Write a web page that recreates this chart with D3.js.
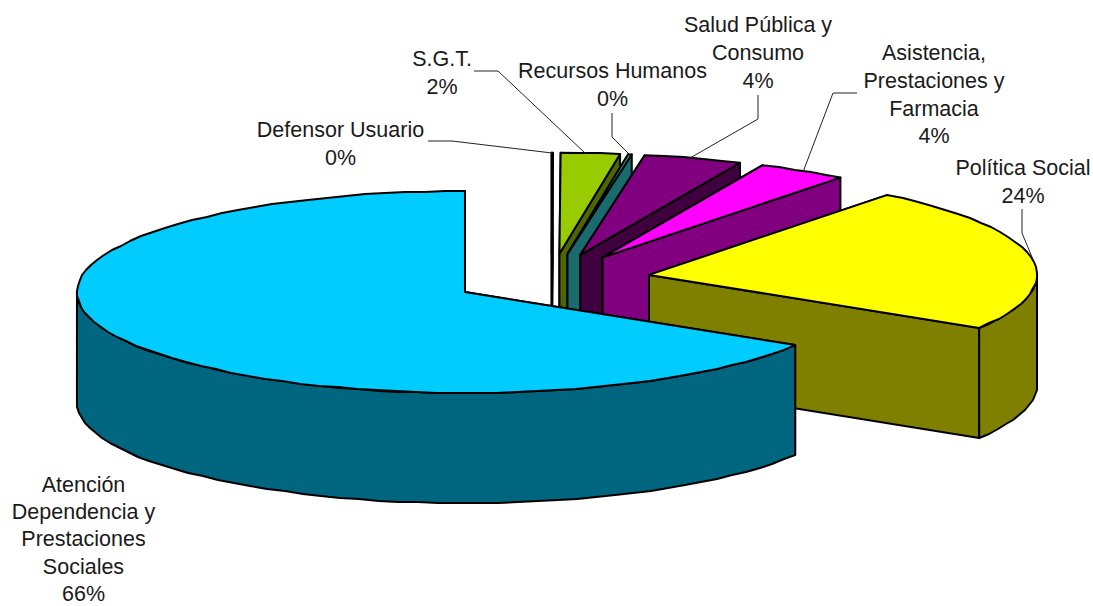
<!DOCTYPE html>
<html>
<head>
    <meta charset="utf-8">
    <title>Pie 3D</title>
    <script type="text/javascript" src="https://cdn.jsdelivr.net/npm/d3@7"></script>
    <style type="text/css">
        body { margin: 0; background: #fff; }
        svg { display: block; }
        .label { font-family: "Liberation Sans", Arial, sans-serif; font-size: 21.5px; fill: #1a1a1a; text-anchor: middle; }
        .leader { fill: none; stroke: #222; stroke-width: 1; }
        .face { stroke: #000; stroke-width: 2; stroke-linejoin: round; }
    </style>
</head>
<body>
<svg></svg>
<script type="text/javascript">
    // clockwise from 12 o'clock
    var categories = ["Defensor Usuario", "S.G.T.", "Recursos Humanos", "Salud Pública y Consumo",
        "Asistencia, Prestaciones y Farmacia", "Política Social", "Atención Dependencia y Prestaciones Sociales"];
    var values = [0.05, 2.45, 0.15, 4.1, 3.75, 23.3, 66.2];
    var percentLabels = ["0%", "2%", "0%", "4%", "4%", "24%", "66%"];
    var topColors = ["#ffffff", "#99cc00", "#339999", "#800080", "#ff00ff", "#ffff00", "#00ccff"];
    var sideColors = ["#ffffff", "#4d6600", "#1a6b6e", "#400040", "#800080", "#808000", "#006680"];

    // label text is wrapped by hand, same as the picture
    var labelLines = [["Defensor Usuario"], ["S.G.T."], ["Recursos Humanos"], ["Salud Pública y", "Consumo"],
        ["Asistencia,", "Prestaciones y", "Farmacia"], ["Política Social"],
        ["Atención", "Dependencia y", "Prestaciones", "Sociales"]];

    var w = 1093, h = 606,
        cx = 551.5, cy = 279.5,
        rx = 388, ry = 101,
        depth = 110,
        explode = 0.2554;

    var labelX = [340.5, 442, 612.5, 758, 934, 1023, 83.5];
    var labelY = [137, 66, 78, 32, 60, 175, 492];
    // the bottom label sits tight against the page edge
    var labelSpacing = [27.8, 27.8, 27.8, 27.8, 27.8, 27.8, 27.2];

    var leaders = [
        [[428, 141], [452, 141], [552, 153]],
        [[474, 71], [498, 71], [585, 153]],
        [[612, 113], [612, 137], [630, 155]],
        [[758, 95], [758, 119], [690, 158]],
        [[857, 93], [833, 93], [803, 172]],
        [[1022, 209], [1022, 233], [1034, 262]],
        []
    ];

    var svg = d3.select("svg").attr("width", w).attr("height", h);

    var x = d3.scaleLinear().domain([-1, 1]).range([-rx, rx]);
    var y = d3.scaleLinear().domain([-1, 1]).range([ry, -ry]);

    var line = d3.line().x(function(d){return d[0];}).y(function(d){return d[1];});

    var pie = d3.pie().sort(null).value(function(d){return d;});
    var arcs = pie(values);

    // unit circle point for a pie angle, 0 at the top going clockwise
    function onRim(a, ox, oy, dz) {
        return [ox + x(Math.sin(a)), oy + y(Math.cos(a)) + dz];
    }

    // snap to whole pixels, keeps a bit of the stepped look of the original
    function rough(p) {
        return [Math.round(p[0]), Math.round(p[1])];
    }

    function sampleAngles(a0, a1) {
        var n = Math.max(1, Math.ceil((a1 - a0) / (3 * Math.PI / 180)));
        return d3.range(n + 1).map(function(i){return a0 + (a1 - a0) * i / n;});
    }

    function rimPoints(as, ox, oy, dz) {
        return as.map(function(a, k) {
            var p = onRim(a, ox, oy, dz);
            return (k === 0 || k === as.length - 1) ? p : rough(p);
        });
    }

    arcs.forEach(function(arc, i) {
        var mid = (arc.startAngle + arc.endAngle) / 2,
            ox = cx + explode * x(Math.sin(mid)),
            oy = cy + explode * y(Math.cos(mid)),
            g = svg.append("g");

        function radial(a) {
            return [[ox, oy], onRim(a, ox, oy, 0), onRim(a, ox, oy, depth), [ox, oy + depth]];
        }

        function addFace(pts, fill) {
            g.append("path").attr("class", "face").attr("fill", fill).attr("d", line(pts) + "Z");
        }

        addFace(radial(arc.startAngle), sideColors[i]);
        addFace(radial(arc.endAngle), sideColors[i]);

        // only the rim between 3 and 9 o'clock faces the viewer
        var a0 = Math.max(arc.startAngle, Math.PI / 2),
            a1 = Math.min(arc.endAngle, Math.PI * 1.5);
        if (a1 > a0) {
            var as = sampleAngles(a0, a1);
            var upper = rimPoints(as, ox, oy, 0);
            var lower = rimPoints(as, ox, oy, depth).reverse();
            addFace(upper.concat(lower), sideColors[i]);
        }

        var topPts = [[ox, oy]].concat(rimPoints(sampleAngles(arc.startAngle, arc.endAngle), ox, oy, 0));
        addFace(topPts, topColors[i]);
    });

    leaders.forEach(function(pts) {
        if (pts.length) svg.append("path").attr("class", "leader").attr("d", line(pts));
    });

    categories.forEach(function(c, i) {
        var text = svg.append("text").attr("class", "label");
        labelLines[i].concat(percentLabels[i]).forEach(function(t, k) {
            text.append("tspan")
                .attr("x", labelX[i])
                .attr("y", labelY[i] + k * labelSpacing[i])
                .text(t);
        });
    });
</script>
</body>
</html>
